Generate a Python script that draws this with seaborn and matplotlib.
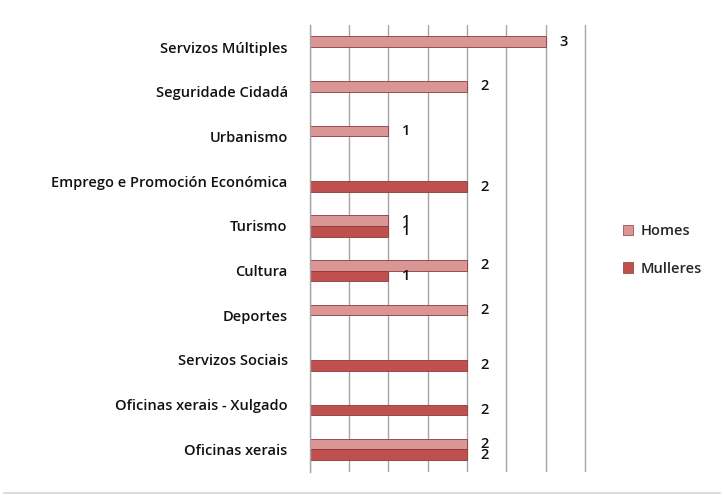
import matplotlib
matplotlib.use('Agg')
import matplotlib.pyplot as plt
import seaborn as sns
import pandas as pd
import numpy as np

# Data (top to bottom)
categories = ['Servizos Múltiples', 'Seguridade Cidadá', 'Urbanismo',
              'Emprego e Promoción Económica', 'Turismo', 'Cultura', 'Deportes',
              'Servizos Sociais', 'Oficinas xerais - Xulgado', 'Oficinas xerais']
homes = [3, 2, 1, 0, 1, 2, 2, 0, 0, 2]
mulleres = [0, 0, 0, 2, 1, 1, 0, 2, 2, 2]
series = ['Homes', 'Mulleres']
colors = ['#D99694', '#C0504D']

df = pd.DataFrame({'Categoria': categories, 'Homes': homes, 'Mulleres': mulleres})
df_melt = pd.melt(df, id_vars=['Categoria'], value_vars=series,
                  var_name='Sexo', value_name='Count')

sns.set_style('white')
plt.rcParams['font.family'] = ['Open Sans', 'DejaVu Sans']
plt.rcParams['font.weight'] = 'semibold'

fig = plt.figure(figsize=(7.24, 4.95), dpi=100)
ax = fig.add_axes([0.428, 0.047, 0.383, 0.903])

sns.barplot(data=df_melt, y='Categoria', x='Count', hue='Sexo', order=categories,
            hue_order=series, palette=colors, saturation=1, width=0.48, orient='h',
            edgecolor='#8B3A38', linewidth=0.6, ax=ax, legend=False)

# Value labels, skipping empty bars
for cont in ax.containers:
    labels = ['%d' % v if v > 0 else '' for v in cont.datavalues]
    ax.bar_label(cont, labels=labels, padding=10, fontsize=10.5, color='#111111')

ax.set_xlim(0, 3.53)
ax.set_ylim(len(categories) - 0.5, -0.5)
ax.set_xticks(np.arange(0, 3.51, 0.5))
ax.set_xticklabels([])
ax.tick_params(axis='x', length=0)
ax.grid(axis='x', color='#A6A6A6', linewidth=1)
ax.set_axisbelow(True)
ax.set_xlabel('')
ax.set_ylabel('')

# category labels and boundary ticks
ax.tick_params(axis='y', which='major', length=0, pad=16, labelsize=10.5, labelcolor='#111111')
ax.set_yticks(np.arange(-0.5, len(categories), 1), minor=True)
ax.tick_params(axis='y', which='minor', length=5, width=1, color='#A6A6A6', direction='out')

for side in ['top', 'right', 'bottom']:
    ax.spines[side].set_visible(False)
ax.spines['left'].set_color('#A6A6A6')
ax.spines['left'].set_linewidth(1)

handles = [plt.Rectangle((0, 0), 1, 1, facecolor=c, edgecolor='#8B3A38', linewidth=0.5) for c in colors]
fig.legend(handles, series, loc='center left', bbox_to_anchor=(0.842, 0.495),
           frameon=False, fontsize=10.5, handlelength=0.7, handleheight=0.7,
           handletextpad=0.5, labelspacing=1.6)

fig.add_artist(plt.Line2D([0.005, 0.995], [0.004, 0.004], color='#DDDDDD', linewidth=1.5))

plt.savefig('out.png', dpi=100)
